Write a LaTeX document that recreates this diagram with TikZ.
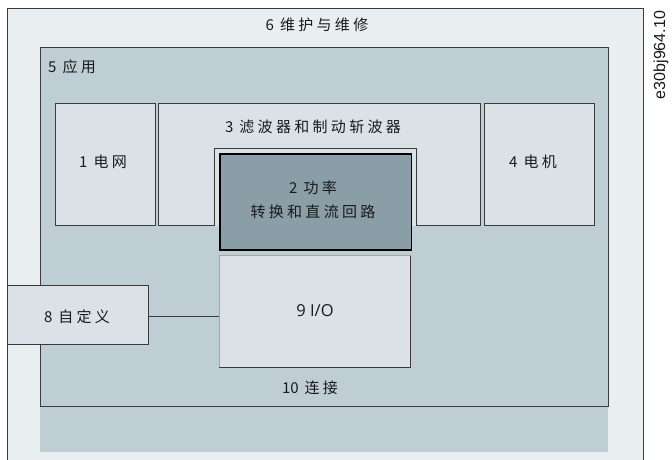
\documentclass[tikz,border=0pt]{standalone}
\usepackage{fontspec}
\setmainfont{Noto Sans CJK SC}
\newfontfamily\cjkls{Noto Sans CJK SC}[LetterSpace=22]
\newfontfamily\latinfont{Open Sans}
\newfontfamily\idfont{Liberation Sans}
\newcommand{\zh}[1]{\hspace{6pt}{\cjkls #1}\hspace{-3.3pt}}
\definecolor{outerbg}{HTML}{E9EEF1}
\definecolor{appbg}{HTML}{BFCDD4}
\definecolor{boxbg}{HTML}{DAE2E8}
\definecolor{powerbg}{HTML}{8A9EA8}
\definecolor{edge}{HTML}{3A3A3A}
\definecolor{txt}{HTML}{1A1A1A}
\begin{document}
\begin{tikzpicture}[x=1pt,y=-1pt,
  lbl/.style={text=txt,font=\fontsize{15}{18}\selectfont,inner sep=0pt},
  plainbox/.style={rectangle,fill=boxbg,draw=edge,line width=0.8pt,inner sep=0pt,outer sep=0pt},
  appbox/.style={rectangle,fill=appbg,draw=edge,line width=0.9pt,inner sep=0pt,outer sep=0pt},
  powerbox/.style={rectangle,fill=powerbg,draw=black,line width=1.2pt,inner sep=0pt,outer sep=0pt,align=center},
  conn/.style={draw=edge,line width=0.8pt}]
\useasboundingbox (0,0) rectangle (672,459);
% 6 outer
\fill[outerbg] (7.5,8) rectangle (643.5,462);
\draw[edge,line width=0.9pt] (7.5,462) -- (7.5,8) -- (643.5,8) -- (643.5,462);
\node[lbl] (maint) at (317,25) {6\zh{维护与维修}};
% lower strip
\fill[appbg] (40,406) rectangle (608,452);
% 5 application
\node[appbox,minimum width=568pt,minimum height=358.5pt] (app) at (324,226.75) {};
\node[lbl,anchor=west] (appl) at (48,67) {5\zh{应用}};
% 1 grid
\node[plainbox,minimum width=100.7pt,minimum height=122.7pt] (grid) at (105.3,164.3) {};
\node[lbl] (gridl) at (103,161.7) {1\zh{电网}};
% 4 motor
\node[plainbox,minimum width=109.7pt,minimum height=122.7pt] (motor) at (539.2,164.3) {};
\node[lbl] (motorl) at (533,161.7) {4\zh{电机}};
% 3 filters and brake chopper
\fill[boxbg] (158.3,103) rectangle (480.3,225.7);
\draw[edge,line width=0.8pt] (158.3,225.7) -- (158.3,103) -- (480.3,103) -- (480.3,225.7) -- (416.7,225.7) -- (416.7,148.5) -- (214,148.5) -- (214,225.7) -- cycle;
\node[lbl] (filterl) at (313,127) {3\zh{滤波器和制动斩波器}};
% 2 power
\node[powerbox,minimum width=191.7pt,minimum height=96pt] (power) at (315.8,202) {};
\node[lbl,align=center] (powerl) at (313,200) {2\zh{功率}\\[6pt]{\cjkls 转换和直流回路}\hspace{-3.3pt}};
% 9 I/O
\node[rectangle,fill=boxbg,inner sep=0pt,outer sep=0pt,minimum width=191.7pt,minimum height=111.3pt] (io) at (314.8,311.3) {};
\draw[gray!70,line width=0.6pt] (io.south west) -- (io.north west) -- (io.north east);
\draw[edge,line width=0.9pt] (io.north east) -- (io.south east) -- (io.south west);
\node[text=txt,inner sep=0pt,font=\latinfont\fontsize{16.5}{19}\selectfont] (iol) at (315,310.7) {9 I/O};
% 10 connection
\node[lbl] (connl) at (310,388) {10\zh{连接}};
% 8 custom
\node[plainbox,minimum width=140.8pt,minimum height=58.3pt] (custom) at (77.9,314.8) {};
\node[lbl] (customl) at (77,316.7) {8\zh{自定义}};
\draw[conn] ([yshift=-2pt]custom.east) -- ([yshift=-2pt]custom.east -| io.west);
% id
\node[rotate=90,text=txt,inner sep=0pt,font=\idfont\fontsize{16}{19}\selectfont] (idl) at (661,55) {e30bj964.10};
\end{tikzpicture}
\end{document}
